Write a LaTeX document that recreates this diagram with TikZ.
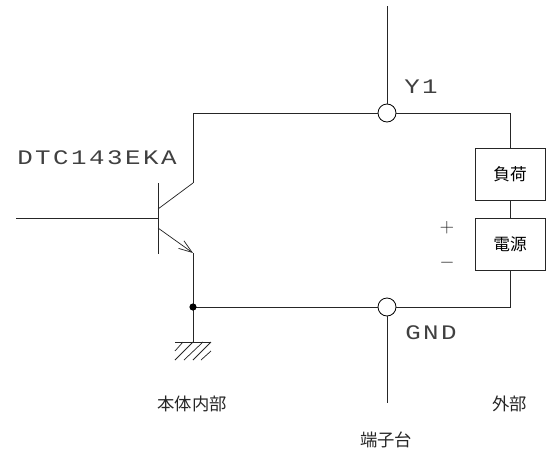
\documentclass[tikz,border=0pt]{standalone}
\usepackage{fontspec}
\usetikzlibrary{arrows.meta}
\newfontfamily\jpfont{Noto Sans CJK JP}
\newfontfamily\widefont[LetterSpace=12,FakeStretch=1.25]{Liberation Mono}

\tikzset{
	wire/.style = {line width = 0.55pt, black!85},
	terminal/.style = {circle, draw, line width = 0.6pt, fill = white, minimum size = 13.5pt, inner sep = 0pt},
	partbox/.style = {rectangle, draw, line width = 0.65pt, black!85, text = black, minimum width = 52.5pt, minimum height = 39pt, inner sep = 0pt, font = \jpfont\fontsize{12.5}{13}\selectfont},
	caption/.style = {inner sep = 0pt, black!85, font = \jpfont\fontsize{13}{13}\selectfont},
	pinname/.style = {inner sep = 0pt, black!75, font = \widefont\fontsize{15.5}{16}\selectfont},
	polarity/.style = {inner sep = 0pt, black!85, font = \fontsize{15}{15}\selectfont}
}

\begin{document}
\begin{tikzpicture}[x = 0.75pt, y = -0.75pt, > = {Straight Barb[length = 10pt, width = 7pt]}]

	\useasboundingbox (0, 0) rectangle (550, 457);

	% Terminals and boxes

	\node [terminal] (y1) at (387, 113) {};
	\node [terminal] (gnd) at (387, 307) {};
	\node [partbox] (load) at (510, 174) {負荷};
	\node [partbox] (source) at (510, 244.5) {電源};

	% Transistor points

	\coordinate (base) at (158, 218);
	\coordinate (bartop) at (158, 183);
	\coordinate (barbot) at (158, 254);
	\coordinate (coll) at (193, 183);
	\coordinate (emit) at (193, 253);
	\coordinate (junction) at (193, 307);
	\coordinate (earth) at (193, 342);

	% Free wire ends

	\coordinate (in) at (16, 218);
	\coordinate (topend) at (387, 6);
	\coordinate (botend) at (387, 403);

	% Transistor

	\draw [wire] (in) -- (base);
	\draw [wire] (bartop) -- (barbot);
	\draw [wire] (158, 209) -- (coll);
	\draw [wire, ->] (158, 228) -- (emit);

	% Wiring

	\draw [wire] (coll) |- (y1);
	\draw [wire] (y1) -| (load);
	\draw [wire] (load) -- (source);
	\draw [wire] (source) |- (gnd);
	\draw [wire] (gnd) -- (junction);
	\draw [wire] (emit) -- (earth);
	\draw [wire] (topend) -- (y1);
	\draw [wire] (gnd) -- (botend);
	\fill (junction) circle (3.6);

	% Ground

	\draw [wire] (175, 342) -- (211, 342);
	\foreach \a/\b/\c/\d in {183/342/175/351, 193/342/175/360, 203/342/184/360, 211/342/193/360, 211/351/201/360}
		\draw [wire] (\a, \b) -- (\c, \d);

	% Labels

	\node [pinname, anchor = west] (part) at (17, 158) {DTC143EKA};
	\node [pinname, anchor = west] (y1name) at (404, 87) {Y1};
	\node [pinname, anchor = west] (gndname) at (405, 333) {GND};
	\node [polarity] (plus) at (447, 228) {$+$};
	\node [polarity] (minus) at (447, 262.5) {$-$};
	\node [caption] (inside) at (192, 404) {本体内部};
	\node [caption] (outside) at (509.5, 404) {外部};
	\node [caption] (block) at (386, 439.5) {端子台};

\end{tikzpicture}
\end{document}
